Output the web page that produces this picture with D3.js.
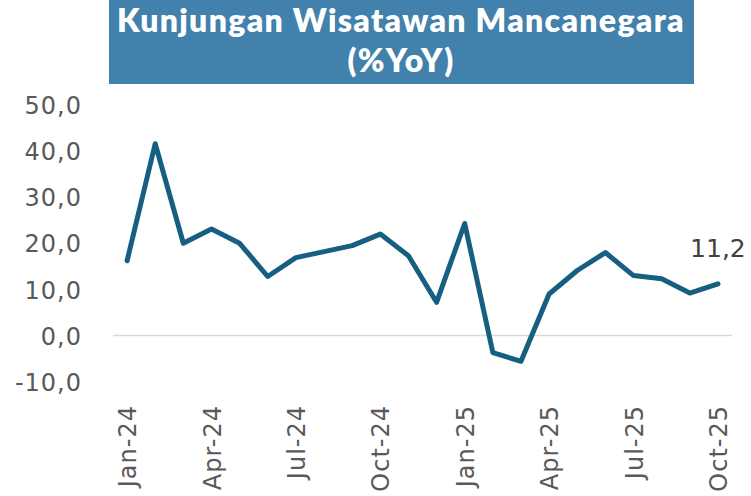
<!DOCTYPE html>
<html>
<head>
<meta charset="utf-8">
<script src="https://cdn.jsdelivr.net/npm/d3@7"></script>
<style>
  html, body { margin: 0; padding: 0; background: #fff; }
  svg { display: block; }
  .tick-lbl { font-family: "DejaVu Sans", sans-serif; font-size: 24px; fill: #595959; letter-spacing: 1px; }
</style>
</head>
<body>
<svg id="chart" width="751" height="496"></svg>
<script>
// data
const months = ["Jan-24","Feb-24","Mar-24","Apr-24","May-24","Jun-24","Jul-24","Aug-24","Sep-24","Oct-24","Nov-24","Dec-24",
                "Jan-25","Feb-25","Mar-25","Apr-25","May-25","Jun-25","Jul-25","Aug-25","Sep-25","Oct-25"];
const yoy = [16.2, 41.6, 20.0, 23.1, 20.0, 12.8, 16.9, 18.2, 19.5, 22.0, 17.3, 7.2,
             24.3, -3.7, -5.6, 9.0, 14.1, 18.0, 13.0, 12.3, 9.2, 11.2];
const yTicks = [-10, 0, 10, 20, 30, 40, 50];
const xTickLabels = ["Jan-24","Apr-24","Jul-24","Oct-24","Jan-25","Apr-25","Jul-25","Oct-25"];
const titleLines = ["Kunjungan Wisatawan Mancanegara", "(%YoY)"];

const svg = d3.select("#chart");
const fmt = v => v.toFixed(1).replace(".", ",");

// judul
svg.append("rect").attr("x", 109).attr("y", 0).attr("width", 585).attr("height", 84).attr("fill", "#4181ac");
svg.selectAll("text.title").data(titleLines).join("text")
  .attr("class", "title")
  .attr("x", 401).attr("y", (d, i) => 32 + i * 40)
  .attr("text-anchor", "middle")
  .style("font-family", "Lato, sans-serif").style("font-weight", 800).style("font-size", "32px")
  .style("letter-spacing", "1.3px")
  .style("fill", "#fff")
  .text(d => d);

const x = d3.scalePoint().domain(months).range([113, 732]).padding(0.5);
const y = d3.scaleLinear().domain([-10, 50]).range([381.6, 105]);

// garis nol
svg.append("line").attr("x1", 113).attr("x2", 732).attr("y1", y(0)).attr("y2", y(0))
  .attr("stroke", "#d9d9d9").attr("stroke-width", 1.5);

// sumbu y
const yAxis = svg.append("g").attr("transform", "translate(82,0)")
  .call(d3.axisLeft(y).tickValues(yTicks).tickFormat(fmt).tickSize(0).tickPadding(0));
yAxis.select(".domain").remove();
yAxis.selectAll("text").attr("class", "tick-lbl").attr("dy", "0.36em");

// sumbu x
const xAxis = svg.append("g").attr("transform", "translate(0,405)")
  .call(d3.axisBottom(x).tickValues(xTickLabels).tickSize(0).tickPadding(0));
xAxis.select(".domain").remove();
xAxis.selectAll("text").attr("class", "tick-lbl")
  .attr("transform", "rotate(-90)").attr("text-anchor", "end")
  .attr("x", 0).attr("y", 0).attr("dy", "0.36em");

// garis
const line = d3.line().x((d, i) => x(months[i])).y(d => y(d));
svg.append("path").datum(yoy).attr("d", line)
  .attr("fill", "none").attr("stroke", "#165f80").attr("stroke-width", 5)
  .attr("stroke-linejoin", "round").attr("stroke-linecap", "round");

// label terakhir
const last = yoy.length - 1;
svg.append("text").attr("x", x(months[last])).attr("y", y(yoy[last]) - 27)
  .attr("text-anchor", "middle")
  .style("font-family", "'DejaVu Sans', sans-serif").style("font-size", "25px").style("fill", "#404040")
  .text(fmt(yoy[last]));
</script>
</body>
</html>
